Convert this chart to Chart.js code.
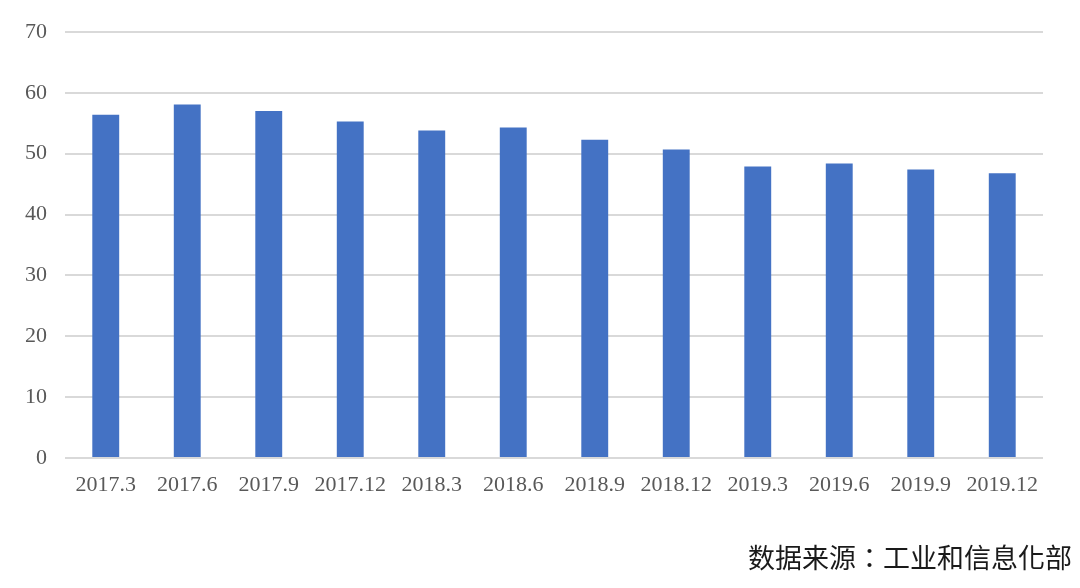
<!DOCTYPE html>
<html>
<head>
<meta charset="utf-8">
<script src="https://cdn.jsdelivr.net/npm/chart.js@4/dist/chart.umd.min.js"></script>
<style>
html,body{margin:0;padding:0;background:#fff;}
#wrap{width:1080px;height:588px;position:relative;}
</style>
</head>
<body>
<div id="wrap"><canvas id="c" width="1080" height="588"></canvas></div>
<script>
const categories = ['2017.3','2017.6','2017.9','2017.12','2018.3','2018.6','2018.9','2018.12','2019.3','2019.6','2019.9','2019.12'];
const values = [56.4, 58.1, 57.0, 55.3, 53.8, 54.3, 52.3, 50.7, 47.9, 48.4, 47.4, 46.8];
const yTicks = [0, 10, 20, 30, 40, 50, 60, 70];
const sourceText = '数据来源：工业和信息化部';

const footer = {
  id: 'footer',
  afterDraw(chart) {
    const ctx = chart.ctx;
    ctx.save();
    ctx.font = '27px "Noto Sans CJK TC"';
    ctx.fillStyle = '#1a1a1a';
    ctx.textAlign = 'right';
    ctx.textBaseline = 'middle';
    ctx.fillText(sourceText, 1072, 558);
    ctx.restore();
  }
};

new Chart(document.getElementById('c'), {
  type: 'bar',
  data: {
    labels: categories,
    datasets: [{
      data: values,
      backgroundColor: '#4472C4',
      categoryPercentage: 0.33,
      barPercentage: 1.0
    }]
  },
  options: {
    responsive: false,
    animation: false,
    layout: { padding: { left: 0, right: 37, top: 32, bottom: 80 } },
    plugins: { legend: { display: false }, tooltip: { enabled: false } },
    scales: {
      x: {
        grid: { display: false },
        border: { display: false },
        ticks: { color: '#595959', font: { family: '"Liberation Serif"', size: 22 }, padding: 6, maxRotation: 0, autoSkip: false },
        afterFit(s) { s.height = 50; }
      },
      y: {
        min: 0, max: 70,
        afterBuildTicks(s) { s.ticks = yTicks.map(v => ({ value: v })); },
        grid: { color: '#d9d9d9', lineWidth: 2, drawTicks: false },
        border: { display: false },
        ticks: { color: '#595959', font: { family: '"Liberation Serif"', size: 22 }, padding: 18 },
        afterFit(s) { s.width = 65; }
      }
    }
  },
  plugins: [footer]
});
</script>
</body>
</html>
